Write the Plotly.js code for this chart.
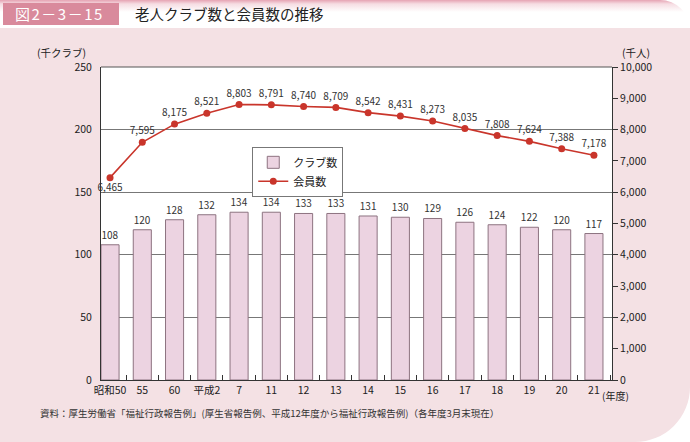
<!DOCTYPE html>
<html><head><meta charset="utf-8">
<script src="https://cdn.plot.ly/plotly-3.0.1.min.js"></script>
<style>
html,body{margin:0;padding:0;background:#fff;}
#wrap{position:relative;width:690px;height:442px;overflow:hidden;background:#fff;}
#topband{position:absolute;left:0;top:0;width:690px;height:30px;background:linear-gradient(#e6a3b3 0px,#f6dde3 4px,#ffffff 12px,#ffffff 30px);border-top-right-radius:40px;}
#panel{position:absolute;left:0;top:28px;width:690px;height:414px;background:#f4e1e4;border-bottom-right-radius:55px;}
#tag{position:absolute;left:3px;top:3px;width:116px;height:22px;background:#d98a9c;color:#fff;font:15px "Noto Sans CJK JP",sans-serif;line-height:22px;padding-left:12px;box-sizing:border-box;letter-spacing:1.5px;}
#title{position:absolute;left:135px;top:3px;height:22px;line-height:22px;font:14.5px "Noto Sans CJK JP",sans-serif;color:#222;}
#chart{position:absolute;left:0;top:0;width:690px;height:442px;}
</style></head>
<body><div id="wrap">
<div id="topband"></div><div id="panel"></div>
<div id="tag">図2－3－15</div>
<div id="title">老人クラブ数と会員数の推移</div>
<div id="chart"></div>
</div>
<script>
const categories = ["昭和50","55","60","平成2","7","11","12","13","14","15","16","17","18","19","20","21"];
const clubs = [108,120,128,132,134,134,133,133,131,130,129,126,124,122,120,117];
const members = [6465,7595,8175,8521,8803,8791,8740,8709,8542,8431,8273,8035,7808,7624,7388,7178];
const font = "Noto Sans CJK JP, sans-serif";

const memberPos = members.map((v,i)=> i===0 ? "bottom center" : "top center");

const traces = [
  {type:"bar", x:categories, y:clubs, name:"クラブ数",
   marker:{color:"#ecd3e1", line:{color:"#8d7380", width:1}},
   text:clubs.map(String), textposition:"outside", cliponaxis:false,
   textfont:{family:font,size:10,color:"#333"}, hoverinfo:"skip"},
  {type:"scatter", mode:"lines+markers+text", x:categories, y:members, yaxis:"y2", name:"会員数",
   line:{color:"#c9352b", width:1.6}, marker:{color:"#c9352b", size:7},
   text:members.map(v=>v.toLocaleString("en-US")), textposition:memberPos, cliponaxis:false,
   textfont:{family:font,size:10,color:"#333"}}
];

const layout = {
  width:690, height:442,
  margin:{l:101, r:78, t:67, b:62},
  paper_bgcolor:"rgba(0,0,0,0)", plot_bgcolor:"#ffffff",
  font:{family:font, size:10.5, color:"#333"},
  bargap:0.44,
  showlegend:true,
  legend:{x:0.296, y:0.745, xanchor:"left", yanchor:"top", bgcolor:"#fff", bordercolor:"#777", borderwidth:1,
          font:{family:font,size:11,color:"#222"}, tracegroupgap:0, itemwidth:30},
  xaxis:{type:"category", range:[-0.28,15.56], showline:true, linecolor:"#333", linewidth:1, mirror:false,
         ticks:"inside", tickson:"boundaries", ticklen:5, tickcolor:"#333", tickangle:0,
         tickfont:{family:font,size:10.5,color:"#222"}, showgrid:false, fixedrange:true},
  yaxis:{range:[0,250], dtick:50, showline:true, linecolor:"#333", linewidth:1,
         ticks:"", showgrid:true, gridcolor:"#777", gridwidth:1, zeroline:false,
         tickfont:{family:font,size:10.5,color:"#222"}, ticklabelstandoff:6},
  yaxis2:{range:[0,10000], dtick:1000, overlaying:"y", side:"right", showline:true, linecolor:"#333", linewidth:1,
          ticks:"outside", ticklen:5, tickcolor:"#333", tickformat:",", showgrid:false, zeroline:false,
          tickfont:{family:font,size:10.5,color:"#222"}},
  shapes:[
    {type:"line", xref:"paper", yref:"paper", x0:0, x1:1, y0:1, y1:1, line:{color:"#555", width:1}}
  ],
  annotations:[
    {xref:"paper", yref:"paper", x:-0.025, y:1.015, xanchor:"right", yanchor:"bottom", showarrow:false,
     text:"(千クラブ)", font:{family:font,size:10.5,color:"#222"}},
    {xref:"paper", yref:"paper", x:1.015, y:1.015, xanchor:"left", yanchor:"bottom", showarrow:false,
     text:"(千人)", font:{family:font,size:10.5,color:"#222"}},
    {xref:"paper", yref:"paper", x:0.977, y:-0.05, xanchor:"left", yanchor:"middle", showarrow:false,
     text:"(年度)", font:{family:font,size:10,color:"#222"}},
    {xref:"paper", yref:"paper", x:-0.124, y:-0.077, xanchor:"left", yanchor:"top", showarrow:false,
     text:"資料：厚生労働省「福祉行政報告例」(厚生省報告例、平成12年度から福祉行政報告例)（各年度3月末現在）",
     font:{family:font,size:9.5,color:"#333"}}
  ]
};
Plotly.newPlot("chart", traces, layout, {displayModeBar:false, staticPlot:true});
</script></body></html>
